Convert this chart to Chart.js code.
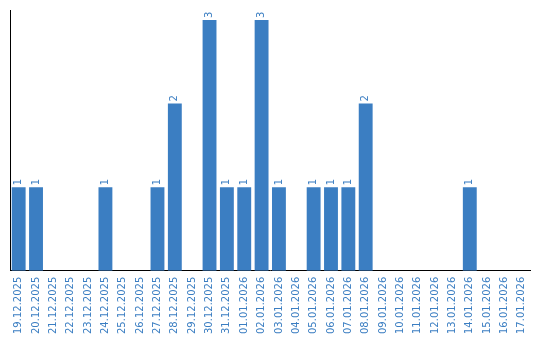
<!DOCTYPE html>
<html>
<head>
<meta charset="utf-8">
<script src="https://cdn.jsdelivr.net/npm/chart.js@4"></script>
<style>
  html, body { margin: 0; padding: 0; background: #fff; }
  #wrap { width: 540px; height: 340px; }
</style>
</head>
<body>
<div id="wrap"><canvas id="dateChart"></canvas></div>
<script>
// dates (categories)
const dates = [
  "19.12.2025", "20.12.2025", "21.12.2025", "22.12.2025", "23.12.2025",
  "24.12.2025", "25.12.2025", "26.12.2025", "27.12.2025", "28.12.2025",
  "29.12.2025", "30.12.2025", "31.12.2025", "01.01.2026", "02.01.2026",
  "03.01.2026", "04.01.2026", "05.01.2026", "06.01.2026", "07.01.2026",
  "08.01.2026", "09.01.2026", "10.01.2026", "11.01.2026", "12.01.2026",
  "13.01.2026", "14.01.2026", "15.01.2026", "16.01.2026", "17.01.2026"
];
// counts per date
const counts = [
  1, 1, 0, 0, 0,
  1, 0, 0, 1, 2,
  0, 3, 1, 1, 3,
  1, 0, 1, 1, 1,
  2, 0, 0, 0, 0,
  0, 1, 0, 0, 0
];

const BLUE = '#3b7ec2';

// value labels drawn vertically above each bar
const valueLabels = {
  id: 'valueLabels',
  afterDatasetsDraw(chart) {
    const ctx = chart.ctx;
    const meta = chart.getDatasetMeta(0);
    ctx.save();
    ctx.fillStyle = BLUE;
    ctx.font = '10px "DejaVu Sans"';
    ctx.textAlign = 'left';
    ctx.textBaseline = 'middle';
    meta.data.forEach((bar, i) => {
      const v = counts[i];
      if (!v) return;
      ctx.save();
      ctx.translate(bar.x, bar.y - 2);
      ctx.rotate(-Math.PI / 2);
      ctx.fillText(String(v), 0, 0);
      ctx.restore();
    });
    ctx.restore();
  }
};

new Chart(document.getElementById('dateChart'), {
  type: 'bar',
  data: {
    labels: dates,
    datasets: [{
      data: counts,
      backgroundColor: BLUE,
      borderWidth: 0,
      barPercentage: 0.8,
      categoryPercentage: 1.0
    }]
  },
  options: {
    responsive: true,
    maintainAspectRatio: false,
    animation: false,
    layout: { padding: { left: 10, top: 10, right: 9, bottom: 0 } },
    plugins: {
      legend: { display: false },
      tooltip: { enabled: false }
    },
    scales: {
      x: {
        grid: { display: false, drawTicks: false },
        border: { display: true, color: '#000', width: 1 },
        ticks: {
          color: BLUE,
          font: { family: 'DejaVu Sans', size: 10 },
          minRotation: 90,
          maxRotation: 90,
          autoSkip: false,
          padding: 6
        }
      },
      y: {
        min: 0,
        max: 3.12,
        grid: { display: false, drawTicks: false },
        border: { display: true, color: '#000', width: 1 },
        ticks: { display: false }
      }
    }
  },
  plugins: [valueLabels]
});
</script>
</body>
</html>
